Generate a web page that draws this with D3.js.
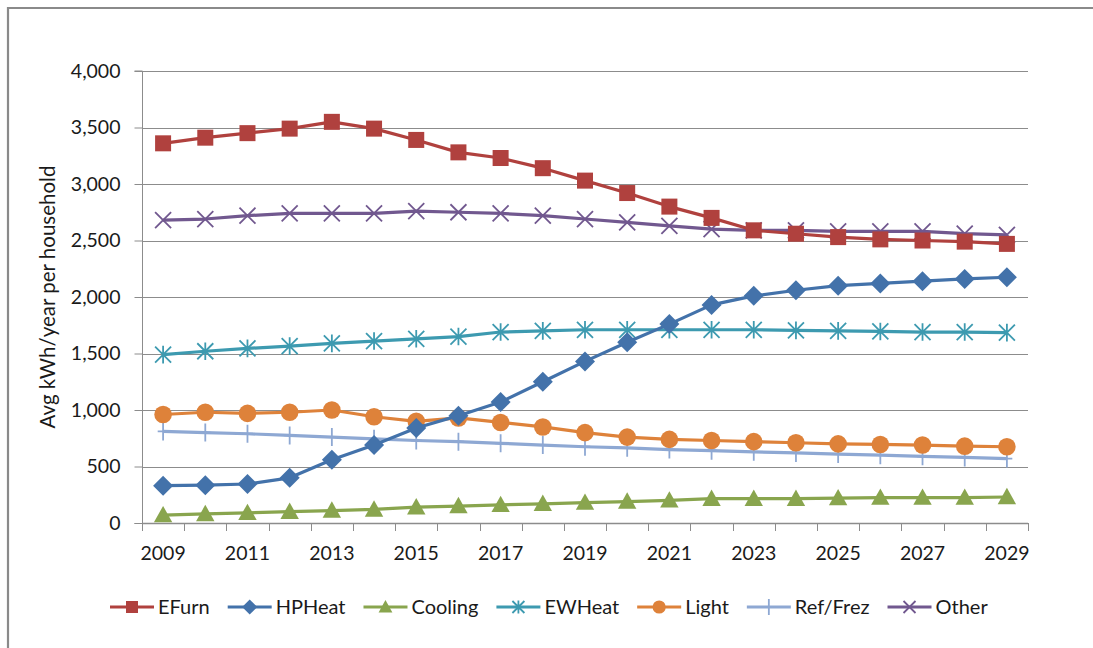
<!DOCTYPE html>
<html>
<head>
<meta charset="utf-8">
<script src="https://cdn.jsdelivr.net/npm/d3@7"></script>
<style>
  html, body { margin: 0; padding: 0; background: #fff; }
  svg { display: block; font-family: Lato, "Open Sans", sans-serif; }
</style>
</head>
<body>
<svg id="chart" width="1093" height="648"></svg>
<script>
// Average household electricity use by end use, 2009-2029
const years = d3.range(2009, 2030);
const yTicks = [0, 500, 1000, 1500, 2000, 2500, 3000, 3500, 4000];
const yTitle = "Avg kWh/year per household";

const efurn   = [3360, 3410, 3450, 3490, 3550, 3490, 3390, 3280, 3230, 3140, 3030, 2920, 2800, 2700, 2590, 2560, 2530, 2510, 2500, 2490, 2470];
const hpheat  = [330, 335, 345, 400, 560, 690, 840, 950, 1070, 1250, 1430, 1600, 1760, 1930, 2010, 2060, 2100, 2120, 2140, 2160, 2175];
const cooling = [70, 80, 90, 100, 110, 120, 140, 150, 160, 170, 180, 190, 200, 215, 215, 215, 220, 225, 225, 225, 230];
const ewheat  = [1490, 1520, 1545, 1565, 1590, 1610, 1630, 1650, 1690, 1700, 1710, 1710, 1710, 1710, 1710, 1705, 1700, 1695, 1690, 1690, 1685];
const light   = [960, 980, 970, 980, 1000, 940, 900, 930, 890, 850, 800, 760, 740, 730, 720, 710, 700, 695, 690, 680, 675];
const refFrez = [810, 800, 790, 775, 760, 745, 730, 720, 705, 690, 675, 665, 650, 640, 630, 620, 610, 600, 590, 580, 570];
const other   = [2680, 2690, 2720, 2740, 2740, 2740, 2760, 2750, 2740, 2720, 2690, 2660, 2630, 2600, 2590, 2590, 2580, 2580, 2580, 2560, 2550];

const series = [
  { name: "EFurn",    values: efurn,   color: "#B0413E", marker: "square" },
  { name: "HPHeat",   values: hpheat,  color: "#4372AA", marker: "diamond" },
  { name: "Cooling",  values: cooling, color: "#89A54E", marker: "triangle" },
  { name: "EWHeat",   values: ewheat,  color: "#3D9AB0", marker: "asterisk" },
  { name: "Light",    values: light,   color: "#DE823A", marker: "circle" },
  { name: "Ref/Frez", values: refFrez, color: "#8EA8D3", marker: "plus" },
  { name: "Other",    values: other,   color: "#71588F", marker: "cross" }
];

const svg = d3.select("#chart");
const plot = { left: 142, right: 1028, top: 71, bottom: 523 };
const textColor = "#1a1a1a";

// outer chart frame
svg.append("path")
  .attr("d", `M8,648 V8 H1093`)
  .attr("fill", "none")
  .attr("stroke", "#8a8a8a")
  .attr("stroke-width", 2.2);

const x = d3.scaleBand().domain(years).range([plot.left, plot.right]).padding(0);
const y = d3.scaleLinear().domain([0, 4000]).range([plot.bottom, plot.top]);
const cx = d => x(d) + x.bandwidth() / 2;

// horizontal gridlines
svg.append("g").selectAll("line")
  .data(yTicks.filter(t => t > 0))
  .join("line")
  .attr("x1", plot.left).attr("x2", plot.right)
  .attr("y1", d => Math.round(y(d)) + 0.5).attr("y2", d => Math.round(y(d)) + 0.5)
  .attr("stroke", "#8c8c8c").attr("stroke-width", 1);

// y axis
const yAxis = svg.append("g")
  .attr("transform", `translate(${plot.left + 0.5},0)`)
  .call(d3.axisLeft(y).tickValues(yTicks).tickFormat(d3.format(",")).tickSize(8).tickPadding(14));
yAxis.select(".domain").attr("stroke", "#8c8c8c").attr("d", `M-8,${plot.bottom + 0.5}H0V${plot.top}H-8`);
yAxis.selectAll(".tick line").attr("stroke", "#8c8c8c");
yAxis.selectAll(".tick text").attr("font-size", 19.5).attr("fill", textColor)
  .attr("font-family", "Lato, 'Open Sans', sans-serif");

// x axis: ticks at category boundaries, labels every other year
const xg = svg.append("g");
xg.append("line")
  .attr("x1", plot.left).attr("x2", plot.right)
  .attr("y1", plot.bottom + 0.5).attr("y2", plot.bottom + 0.5)
  .attr("stroke", "#8c8c8c").attr("stroke-width", 1.3);
const bounds = years.map(d => x(d)).concat([plot.right]);
xg.selectAll("line.tk").data(bounds).join("line").attr("class", "tk")
  .attr("x1", d => Math.round(d) + 0.5).attr("x2", d => Math.round(d) + 0.5)
  .attr("y1", plot.bottom).attr("y2", plot.bottom + 8)
  .attr("stroke", "#8c8c8c");
xg.selectAll("text").data(years.filter((d, i) => i % 2 === 0)).join("text")
  .attr("x", d => cx(d)).attr("y", 560)
  .attr("text-anchor", "middle").attr("font-size", 19.5).attr("fill", textColor)
  .text(d => d);

// y axis title
svg.append("text")
  .attr("transform", `translate(55,${(plot.top + plot.bottom) / 2}) rotate(-90)`)
  .attr("text-anchor", "middle").attr("font-size", 20.5).attr("fill", textColor)
  .text(yTitle);

// marker drawing
function drawMarker(g, type, color, s) {
  const h = s / 2;
  switch (type) {
    case "square":
      g.append("rect").attr("x", -h).attr("y", -h).attr("width", s).attr("height", s).attr("fill", color);
      break;
    case "diamond":
      g.append("path").attr("d", `M0,${-h * 1.25}L${h * 1.25},0L0,${h * 1.25}L${-h * 1.25},0Z`).attr("fill", color);
      break;
    case "triangle":
      g.append("path").attr("d", `M0,${-h * 1.15}L${h * 1.15},${h * 0.9}L${-h * 1.15},${h * 0.9}Z`).attr("fill", color);
      break;
    case "circle":
      g.append("circle").attr("r", h * 1.1).attr("fill", color);
      break;
    case "asterisk":
      g.append("path").attr("d", `M${-h},${-h}L${h},${h}M${-h},${h}L${h},${-h}M0,${-h * 1.1}V${h * 1.1}`)
        .attr("stroke", color).attr("stroke-width", 1.8).attr("fill", "none");
      break;
    case "plus":
      g.append("path").attr("d", `M0,${-h}V${h}M${-h * 0.6},0H${h * 0.6}`)
        .attr("stroke", color).attr("stroke-width", 1.8).attr("fill", "none");
      break;
    case "cross":
      g.append("path").attr("d", `M${-h},${-h}L${h},${h}M${-h},${h}L${h},${-h}`)
        .attr("stroke", color).attr("stroke-width", 1.8).attr("fill", "none");
      break;
  }
}

const line = d3.line().x((d, i) => cx(years[i])).y(d => y(d));

// draw in reverse so EFurn ends on top
const drawOrder = ["Ref/Frez", "Cooling", "Light", "EWHeat", "HPHeat", "Other", "EFurn"];
drawOrder.forEach(n => {
  const s = series.find(d => d.name === n);
  const g = svg.append("g");
  g.append("path").datum(s.values).attr("d", line)
    .attr("fill", "none").attr("stroke", s.color).attr("stroke-width", 3.2)
    .attr("stroke-linejoin", "round");
  s.values.forEach((v, i) => {
    const m = g.append("g").attr("transform", `translate(${cx(years[i])},${y(v)})`);
    drawMarker(m, s.marker, s.color, s.marker === "plus" ? 18 : 16);
  });
});

// legend
const legend = svg.append("g").attr("transform", "translate(110,607)");
let lx = 0;
series.forEach(s => {
  const g = legend.append("g").attr("transform", `translate(${lx},0)`);
  g.append("line").attr("x1", 0).attr("x2", 44).attr("y1", 0).attr("y2", 0)
    .attr("stroke", s.color).attr("stroke-width", 3.2);
  const m = g.append("g").attr("transform", "translate(22,0)");
  drawMarker(m, s.marker, s.color, s.marker === "plus" ? 16 : 12);
  const t = g.append("text").attr("x", 48).attr("y", 7).attr("font-size", 20).attr("fill", textColor).text(s.name);
  lx += 48 + t.node().getComputedTextLength() + 18;
});
</script>
</body>
</html>
